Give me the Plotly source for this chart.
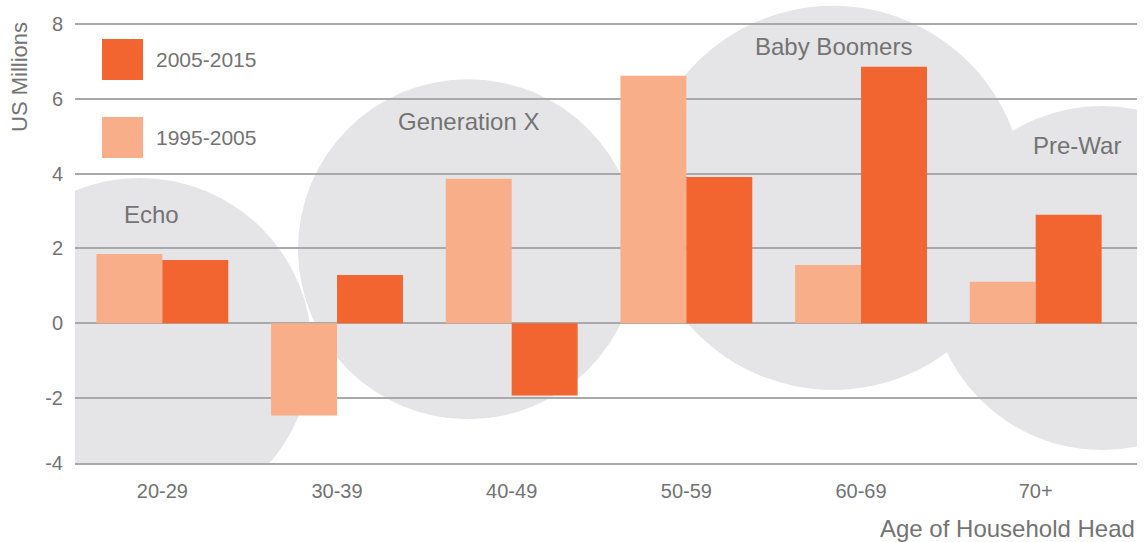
import plotly.graph_objects as go

# ---- data -------------------------------------------------------------
age_groups = ["20-29", "30-39", "40-49", "50-59", "60-69", "70+"]
growth_1995_2005 = [1.85, -2.46, 3.86, 6.61, 1.56, 1.11]
growth_2005_2015 = [1.69, 1.29, -1.93, 3.91, 6.85, 2.90]
series_names = ["1995-2005", "2005-2015"]

y_tick_vals = [-2, 0, 2, 4, 6, 8]
y_tick_text = ["-2", "0", "2", "4", "6", "8"]
y_floor_label = "-4"

generations = ["Echo", "Generation X", "Baby Boomers", "Pre-War"]
gen_label_x = [-0.06, 1.755, 3.84, 5.236]
gen_label_y = [2.90, 5.38, 7.38, 4.74]
# bubble centres (category index, value) and radius in pixels
bubble_cx = [-0.128, 1.75, 3.839, 5.379]
bubble_cy = [-0.71, 1.98, 3.35, 1.21]
bubble_r_px = [172, 170, 192, 172]

# ---- styling ----------------------------------------------------------
LIGHT = "#f8ae89"
DARK = "#f26531"
BUBBLE = "#e5e5e8"
GRID = "#a9a9a9"
TEXT = "#737373"
FONT = "Liberation Sans"

W, H = 1148, 542
ML, MR, MT, MB = 75, 11, 5, 79
Y_MIN, Y_MAX = -3.73, 8.5
X_MIN, X_MAX = -0.5, len(age_groups) - 0.42

plot_w = W - ML - MR
plot_h = H - MT - MB
px_per_cat = plot_w / (X_MAX - X_MIN)
px_per_val = plot_h / (Y_MAX - Y_MIN)


def px_to_paper_x(px):
    return (px - ML) / plot_w


def px_to_paper_y(py):
    return (H - MB - py) / plot_h


fig = go.Figure()
fig.add_trace(go.Bar(x=age_groups, y=growth_1995_2005, name=series_names[0],
                     marker=dict(color=LIGHT, line=dict(width=0)),
                     showlegend=False))
fig.add_trace(go.Bar(x=age_groups, y=growth_2005_2015, name=series_names[1],
                     marker=dict(color=DARK, line=dict(width=0)),
                     showlegend=False))

shapes = []
# generation bubbles behind the grid
for cx, cy, r in zip(bubble_cx, bubble_cy, bubble_r_px):
    rx = r / px_per_cat
    ry = r / px_per_val
    shapes.append(dict(type="circle", xref="x", yref="y",
                       x0=cx - rx, x1=cx + rx, y0=cy - ry, y1=cy + ry,
                       fillcolor=BUBBLE, line=dict(width=0), layer="below"))

# legend swatches
swatch_px = 41
legend_rows = [(series_names[1], DARK, 39), (series_names[0], LIGHT, 117)]
annotations = []
for name, color, top in legend_rows:
    shapes.append(dict(type="rect", xref="paper", yref="paper",
                       x0=px_to_paper_x(102), x1=px_to_paper_x(102 + swatch_px),
                       y0=px_to_paper_y(top + swatch_px), y1=px_to_paper_y(top),
                       fillcolor=color, line=dict(width=0), layer="above"))
    annotations.append(dict(text=name, xref="paper", yref="paper",
                            x=px_to_paper_x(154), y=px_to_paper_y(top + swatch_px / 2),
                            xanchor="left", yanchor="middle", showarrow=False,
                            font=dict(size=21, color=TEXT, family=FONT)))

for name, gx, gy in zip(generations, gen_label_x, gen_label_y):
    annotations.append(dict(text=name, x=gx, y=gy, xref="x", yref="y",
                            xanchor="center", yanchor="middle", showarrow=False,
                            font=dict(size=24, color=TEXT, family=FONT)))

annotations.append(dict(text="US Millions", xref="paper", yref="paper",
                        x=px_to_paper_x(19), y=px_to_paper_y(77), textangle=-90,
                        xanchor="center", yanchor="middle", showarrow=False,
                        font=dict(size=22, color=TEXT, family=FONT)))
annotations.append(dict(text="Age of Household Head", xref="paper", yref="paper",
                        x=1.0, y=px_to_paper_y(528), xanchor="right", yanchor="middle",
                        showarrow=False, font=dict(size=24, color=TEXT, family=FONT)))

fig.update_layout(
    width=W, height=H,
    margin=dict(l=ML, r=MR, t=MT, b=MB),
    paper_bgcolor="white", plot_bgcolor="white",
    barmode="group", bargap=0.245, bargroupgap=0,
    shapes=shapes, annotations=annotations,
    font=dict(family=FONT, color=TEXT),
    xaxis=dict(range=[X_MIN, X_MAX], showgrid=False, zeroline=False, showline=True,
               linecolor=GRID, linewidth=2, ticks="",
               tickfont=dict(size=20, color=TEXT), ticklabelstandoff=9),
    yaxis=dict(range=[Y_MIN, Y_MAX], tickvals=[Y_MIN] + y_tick_vals,
               ticktext=[y_floor_label] + y_tick_text,
               showgrid=True, gridcolor=GRID, gridwidth=2, zeroline=False,
               ticks="", tickfont=dict(size=20, color=TEXT), ticklabelstandoff=11),
)

fig.write_html("out.html")
